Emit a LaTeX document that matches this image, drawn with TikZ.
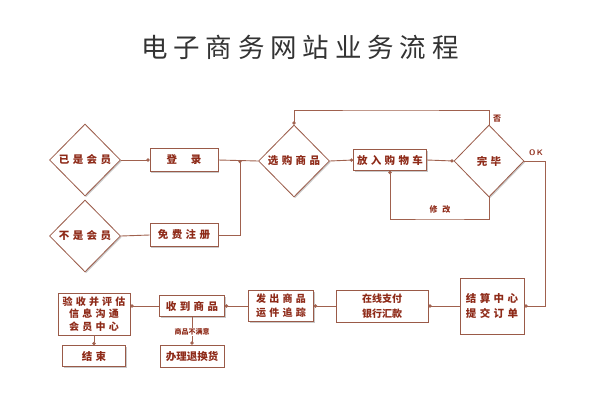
\documentclass[tikz,border=0pt]{standalone}
\usepackage{fontspec}
\usetikzlibrary{shapes.geometric,arrows.meta,shadows}
\newfontfamily\titlefont[LetterSpace=22]{Noto Sans CJK SC}
\newfontfamily\boxfont[LetterSpace=32]{Noto Sans CJK SC}
\newfontfamily\smallfont{Noto Sans CJK SC}
\definecolor{txtred}{HTML}{8E2A18}
\definecolor{brd}{HTML}{9A5A48}
\definecolor{lnc}{HTML}{A0614E}
\definecolor{ttl}{HTML}{333333}
\tikzset{
  sh/.style={drop shadow={shadow xshift=1.2pt,shadow yshift=-1.2pt,fill=black!35,opacity=0.6}},
  bx/.style={draw=brd,line width=0.8pt,fill=white,sh,inner sep=0pt,
     font=\boxfont\fontsize{10.5}{15}\selectfont\bfseries,text=txtred,align=center},
  dm/.style={diamond,draw=brd,line width=0.8pt,fill=white,sh,inner sep=0pt,
     minimum width=71pt,minimum height=72pt,
     font=\boxfont\fontsize{10.5}{13}\selectfont\bfseries,text=txtred},
  conn/.style={draw=lnc,line width=0.9pt},
  dot/.style={-{Circle[length=3.2pt,width=3.2pt]}},
  lbl/.style={font=\smallfont\fontsize{8}{9}\selectfont\bfseries,text=txtred,inner sep=1pt}
}
\begin{document}
\begin{tikzpicture}[x=1pt,y=-1pt]
\fill[white] (0,0) rectangle (600,400);
\useasboundingbox (0,0) rectangle (600,400);
\node[font=\titlefont\fontsize{26.5}{30}\selectfont,text=ttl] (title) at (300,47) {电子商务网站业务流程};
% top part
\node[dm] (m1) at (85,160) {已是会员};
\node[dm] (m2) at (85,236) {不是会员};
\node[bx,minimum width=68pt,minimum height=23pt] (login) at (184,160) {登\hspace{1.3em}录};
\node[bx,minimum width=68pt,minimum height=23pt] (reg) at (184,235) {免费注册};
\node[dm] (sel) at (294,161) {选购商品};
\node[bx,minimum width=73pt,minimum height=21pt] (cart) at (390,160) {放入购物车};
\node[dm,minimum width=70pt] (done) at (489,161) {完毕};
% bottom part
\node[bx,minimum width=64pt,minimum height=56pt] (settle) at (492,306) {结算中心\\提交订单};
\node[bx,minimum width=92pt,minimum height=32pt,font=\smallfont\fontsize{10}{15}\selectfont\bfseries] (pay) at (382,306) {在线支付\\银行汇款};
\node[bx,minimum width=65pt,minimum height=31pt,font=\boxfont\fontsize{10}{14}\selectfont\bfseries] (ship) at (281,306) {发出商品\\运件追踪};
\node[bx,minimum width=65pt,minimum height=21pt] (recv) at (192,306) {收到商品};
\node[bx,minimum width=72pt,minimum height=42pt,font=\boxfont\fontsize{10}{12.5}\selectfont\bfseries] (eval) at (94,314) {验收并评估\\信息沟通\\会员中心};
\node[bx,minimum width=63pt,minimum height=21pt] (end) at (94,356) {结束};
\node[bx,minimum width=64pt,minimum height=22pt,font=\smallfont\fontsize{10.5}{13}\selectfont\bfseries] (ret) at (192,356) {办理退换货};
% helper coordinates
\coordinate (j1) at (240,160);
\coordinate (c1) at (390,110);
\coordinate (c2) at (440,219);
\coordinate (c3) at (545,161);
% connectors
\draw[conn,dot] (m1.east) -- (login.west);
\draw[conn] (m2.east) -- (reg.west);
\draw[conn,dot] (reg.east) -| (j1);
\draw[conn] (login.east) -- (sel.west);
\draw[conn,dot] (sel.east) -- (cart.west);
\draw[conn,dot] (cart.east) -- (done.west);
\draw[conn,dot] (done.north) |- (c1) -| (sel.north);
\node[lbl] (no) at (497,119) {否};
\draw[conn,dot] (done.south) |- (c2) -| (cart.south);
\node[lbl,font=\boxfont\fontsize{8}{9}\selectfont\bfseries] (mod) at (440,209) {修\hspace{0.6em}改};
\draw[conn,dot] (done.east) -- (c3) |- (settle.east);
\node[lbl,font=\fontsize{8}{9}\selectfont\sffamily\bfseries] (ok) at (536,153) {O\,K};
\draw[conn,dot] (settle.west) -- (pay.east);
\draw[conn,dot] (pay.west) -- (ship.east);
\draw[conn,dot] (ship.west) -- (recv.east);
\draw[conn,dot] (recv.west) -- (recv.west -| eval.east);
\draw[conn,dot] (eval.south) -- (end.north);
\draw[conn,dot] (recv.south) -- (ret.north);
\node[lbl,fill=white,font=\smallfont\fontsize{7}{8}\selectfont\bfseries] (unsat) at (192,332) {商品不满意};
\end{tikzpicture}
\end{document}
